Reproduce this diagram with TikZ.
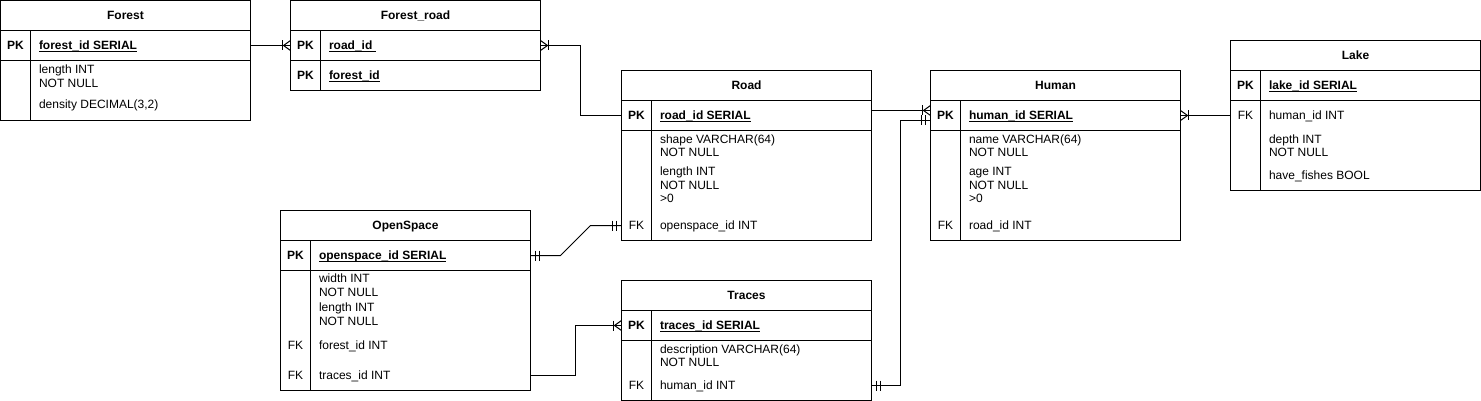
\documentclass[tikz,border=0pt]{standalone}
\usepackage{fontspec}
\setmainfont{Liberation Sans}
\usetikzlibrary{calc}
\newcommand\erfont{\fontsize{12pt}{14pt}\selectfont}
\newcommand\erfontb{\fontsize{12pt}{14pt}\selectfont\bfseries}
\newcommand\ulx[1]{\setbox0\hbox{#1}\rlap{\rule[-2.3pt]{\wd0}{0.9pt}}\box0}
\newcommand\crowmark[2]{%
  \draw ($(#1)+(#2*8,-5)$) -- ($(#1)+(#2*8,5)$);
  \draw ($(#1)+(0,-5)$) -- ($(#1)+(#2*7,0)$) -- ($(#1)+(0,5)$);}
\newcommand\dbarmark[2]{%
  \draw ($(#1)+(#2*5,-5)$) -- ($(#1)+(#2*5,5)$);
  \draw ($(#1)+(#2*9,-5)$) -- ($(#1)+(#2*9,5)$);}
\tikzset{
  tbl/.style={draw, anchor=north west, minimum width=250pt, inner sep=0pt, outer sep=0pt, text height=8.6pt, text depth=0pt, font=\erfontb},
  txt/.style={anchor=west, inner sep=0pt, text height=8.6pt, text depth=0pt, font=\erfont},
  keytxt/.style={anchor=center, inner sep=0pt, text height=8.6pt, text depth=0pt, font=\erfont},
  pkkey/.style={keytxt, font=\erfontb},
  pktxt/.style={txt, font=\erfontb},
}
\begin{document}
\begin{tikzpicture}[x=1pt, y=-1pt, line width=1pt, line join=miter]
\useasboundingbox (-0.5,-0.5) rectangle (1480.5,400.5);

% ---------- Forest ----------
\node[tbl, minimum height=30pt] (forest) at (0,0) {Forest};
\node[tbl, minimum height=30pt] (forestpk) at (0,30) {};
\node[tbl, minimum height=60pt] (forestbody) at (0,60) {};
\draw ($(forestpk.north west)+(30,0)$) -- ($(forestbody.south west)+(30,0)$);
\node[pkkey] (forestk1) at (15,45) {PK};
\node[pktxt] (forestf1) at (38,45) {\ulx{forest\_id SERIAL}};
\node[txt] (forestf2) at (38,69) {length INT};
\node[txt] (forestf3) at (38,83) {NOT NULL};
\node[txt] (forestf4) at (38,104) {density DECIMAL(3,2)};

% ---------- Forest_road ----------
\node[tbl, minimum height=30pt] (fr) at (290,0) {Forest\_road};
\node[tbl, minimum height=30pt] (frpk1) at (290,30) {};
\node[tbl, minimum height=30pt] (frpk2) at (290,60) {};
\draw ($(frpk1.north west)+(30,0)$) -- ($(frpk2.south west)+(30,0)$);
\node[pkkey] (frk1) at (305,45) {PK};
\node[pktxt] (frf1) at (328,45) {\ulx{road\_id\ }};
\node[pkkey] (frk2) at (305,75) {PK};
\node[pktxt] (frf2) at (328,75) {\ulx{forest\_id}};

% ---------- Road ----------
\node[tbl, minimum height=30pt] (road) at (621,70) {Road};
\node[tbl, minimum height=30pt] (roadpk) at (621,100) {};
\node[tbl, minimum height=110pt] (roadbody) at (621,130) {};
\draw ($(roadpk.north west)+(30,0)$) -- ($(roadbody.south west)+(30,0)$);
\node[pkkey] (roadk1) at (636,115) {PK};
\node[pktxt] (roadf1) at (659,115) {\ulx{road\_id SERIAL}};
\node[txt] (roadf2) at (659,139) {shape VARCHAR(64)};
\node[txt] (roadf3) at (659,152) {NOT NULL};
\node[txt] (roadf4) at (659,171) {length INT};
\node[txt] (roadf5) at (659,185) {NOT NULL};
\node[txt] (roadf6) at (659,198) {>0};
\node[keytxt] (roadk2) at (636,225) {FK};
\node[txt] (roadfk) at (659,225) {openspace\_id INT};

% ---------- Human ----------
\node[tbl, minimum height=30pt] (human) at (930,70) {Human};
\node[tbl, minimum height=30pt] (humanpk) at (930,100) {};
\node[tbl, minimum height=110pt] (humanbody) at (930,130) {};
\draw ($(humanpk.north west)+(30,0)$) -- ($(humanbody.south west)+(30,0)$);
\node[pkkey] (humank1) at (945,115) {PK};
\node[pktxt] (humanf1) at (968,115) {\ulx{human\_id SERIAL}};
\node[txt] (humanf2) at (968,139) {name VARCHAR(64)};
\node[txt] (humanf3) at (968,152) {NOT NULL};
\node[txt] (humanf4) at (968,171) {age INT};
\node[txt] (humanf5) at (968,185) {NOT NULL};
\node[txt] (humanf6) at (968,198) {>0};
\node[keytxt] (humank2) at (945,225) {FK};
\node[txt] (humanfk) at (968,225) {road\_id INT};

% ---------- Lake ----------
\node[tbl, minimum height=30pt] (lake) at (1230,40) {Lake};
\node[tbl, minimum height=30pt] (lakepk) at (1230,70) {};
\node[tbl, minimum height=90pt] (lakebody) at (1230,100) {};
\draw ($(lakepk.north west)+(30,0)$) -- ($(lakebody.south west)+(30,0)$);
\node[pkkey] (lakek1) at (1245,85) {PK};
\node[pktxt] (lakef1) at (1268,85) {\ulx{lake\_id SERIAL}};
\node[keytxt] (lakek2) at (1245,115) {FK};
\node[txt] (lakefk) at (1268,115) {human\_id INT};
\node[txt] (lakef3) at (1268,139) {depth INT};
\node[txt] (lakef4) at (1268,152) {NOT NULL};
\node[txt] (lakef5) at (1268,175) {have\_fishes BOOL};

% ---------- OpenSpace ----------
\node[tbl, minimum height=30pt] (os) at (280,210) {OpenSpace};
\node[tbl, minimum height=30pt] (ospk) at (280,240) {};
\node[tbl, minimum height=120pt] (osbody) at (280,270) {};
\draw ($(ospk.north west)+(30,0)$) -- ($(osbody.south west)+(30,0)$);
\node[pkkey] (osk1) at (295,255) {PK};
\node[pktxt] (osf1) at (318,255) {\ulx{openspace\_id SERIAL}};
\node[txt] (osf2) at (318,278) {width INT};
\node[txt] (osf3) at (318,292) {NOT NULL};
\node[txt] (osf4) at (318,307) {length INT};
\node[txt] (osf5) at (318,321) {NOT NULL};
\node[keytxt] (osk2) at (295,345) {FK};
\node[txt] (osfk1) at (318,345) {forest\_id INT};
\node[keytxt] (osk3) at (295,375) {FK};
\node[txt] (osfk2) at (318,375) {traces\_id INT};

% ---------- Traces ----------
\node[tbl, minimum height=30pt] (tr) at (621,280) {Traces};
\node[tbl, minimum height=30pt] (trpk) at (621,310) {};
\node[tbl, minimum height=60pt] (trbody) at (621,340) {};
\draw ($(trpk.north west)+(30,0)$) -- ($(trbody.south west)+(30,0)$);
\node[pkkey] (trk1) at (636,325) {PK};
\node[pktxt] (trf1) at (659,325) {\ulx{traces\_id SERIAL}};
\node[txt] (trf2) at (659,349) {description VARCHAR(64)};
\node[txt] (trf3) at (659,362) {NOT NULL};
\node[keytxt] (trk2) at (636,385) {FK};
\node[txt] (trfk) at (659,385) {human\_id INT};

% ---------- connector end points ----------
\coordinate (rfkL) at (roadbody.west |- roadfk.west);
\coordinate (lfkL) at (lakebody.west |- lakefk.west);
\coordinate (tfkR) at (trbody.east |- trfk.west);
\coordinate (ofkR) at (osbody.east |- osfk2.west);
\coordinate (hA) at ([yshift=5pt]humanpk.west);
\coordinate (hB) at ([yshift=-5pt]humanpk.west);
\coordinate (rA) at ([yshift=5pt]roadpk.east);

% ---------- connectors ----------
% Forest -- Forest_road
\draw (forestpk.east) -- (frpk1.west);
\crowmark{frpk1.west}{-1}
% Forest_road -- Road
\draw (frpk1.east) -- ++(40,0) |- (roadpk.west);
\crowmark{frpk1.east}{1}
% Road -- Human
\draw (rA) -- (hA);
\crowmark{hA}{-1}
% Traces -- Human
\draw (tfkR) -- ++(29,0) |- (hB);
\dbarmark{tfkR}{1}
\dbarmark{hB}{-1}
% Human -- Lake
\draw (humanpk.east) -- (lfkL);
\crowmark{humanpk.east}{1}
% OpenSpace -- Road
\draw (ospk.east) -- ++(30,0) -- ($(rfkL)+(-31,0)$) -- (rfkL);
\dbarmark{ospk.east}{1}
\dbarmark{rfkL}{-1}
% OpenSpace -- Traces
\draw (ofkR) -- ++(45,0) |- (trpk.west);
\crowmark{trpk.west}{-1}
\end{tikzpicture}
\end{document}
